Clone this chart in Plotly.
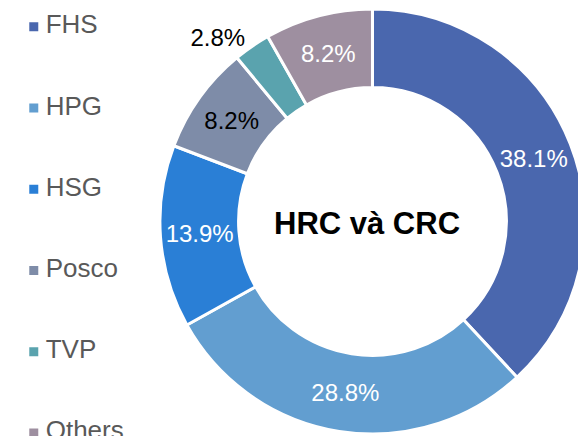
import plotly.graph_objects as go

labels = ["FHS", "HPG", "HSG", "Posco", "TVP", "Others"]
values = [38.1, 28.8, 13.9, 8.2, 2.8, 8.2]
colors = ["#4A67AE", "#629ED0", "#2A7FD6", "#7E8CA8", "#5AA3AE", "#9E8FA0"]
text_colors = ["white", "white", "white", "black", "black", "white"]
text_pos = ["inside", "inside", "inside", "inside", "outside", "inside"]
center_title = "HRC và CRC"

FONT = "Liberation Sans, Arial, sans-serif"
W, H = 590, 439  # the donut runs past the right edge of the 578px view, as in the reference

fig = go.Figure()

fig.add_trace(go.Pie(
    labels=labels,
    values=values,
    sort=False,
    direction="clockwise",
    rotation=0,
    hole=0.63,
    marker=dict(colors=colors, line=dict(color="white", width=3)),
    texttemplate="%{value:.1f}%",
    textposition=text_pos,
    insidetextorientation="horizontal",
    textfont=dict(family=FONT, size=24, color=text_colors),
    showlegend=False,
    hoverinfo="label+percent",
    domain=dict(x=[161 / W, 589 / W], y=[2 / H, 430 / H]),
))

# legend drawn as square markers plus labels on a hidden axis
idx = list(range(len(labels)))
fig.add_trace(go.Scatter(
    x=[0] * len(labels), y=idx, mode="markers",
    marker=dict(symbol="square", size=9, color=colors, line=dict(width=0)),
    showlegend=False, hoverinfo="skip",
))
fig.add_trace(go.Scatter(
    x=[12] * len(labels), y=idx, mode="text",
    text=labels, textposition="middle right",
    textfont=dict(family=FONT, size=26, color="#595959"),
    showlegend=False, hoverinfo="skip",
))

fig.update_layout(
    width=W, height=H,
    margin=dict(l=0, r=0, t=0, b=0),
    paper_bgcolor="white",
    plot_bgcolor="rgba(0,0,0,0)",
    xaxis=dict(domain=[0, 173 / W], range=[-34, 139], visible=False, fixedrange=True),
    yaxis=dict(domain=[0, 1], range=[5.037, -0.330], visible=False, fixedrange=True),
    annotations=[dict(
        text=center_title, x=370 / W, y=0.487, xref="paper", yref="paper",
        showarrow=False, font=dict(family=FONT, size=31, color="black", weight="bold"),
        xanchor="center", yanchor="middle",
    )],
)

fig.write_html(
    "out.html",
    config={"displayModeBar": False},
    post_script="document.body.style.margin='0px';"
                "document.documentElement.style.overflow='hidden';"
                "document.body.style.overflow='hidden';",
)
